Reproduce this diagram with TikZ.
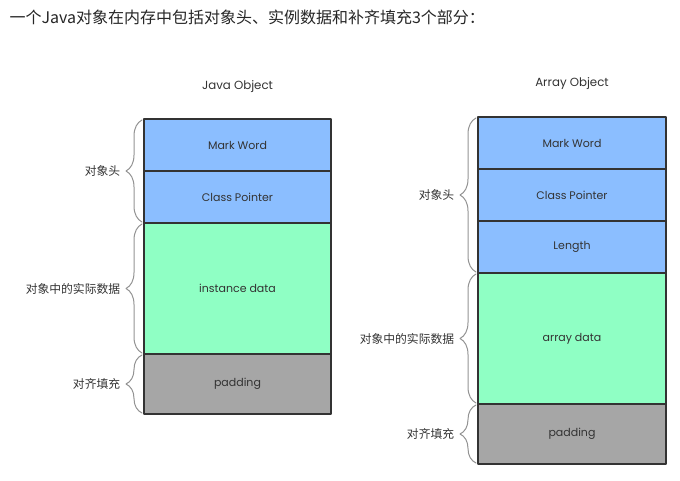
\documentclass[tikz,border=0pt]{standalone}
\usepackage{fontspec}
\setmainfont{Poppins}
\newfontfamily\cjk{Noto Sans CJK SC}
\usetikzlibrary{positioning,decorations.pathreplacing}
\definecolor{hdblue}{RGB}{139,190,255}
\definecolor{datagreen}{RGB}{143,255,196}
\definecolor{padgray}{RGB}{166,166,166}
\definecolor{edgegray}{RGB}{51,51,51}

\begin{document}
\begin{tikzpicture}[x=1pt,y=-1pt,line cap=round,line join=round,
	seg/.style={draw=edgegray, line width=2pt, inner sep=0pt, outer sep=0pt, text=edgegray, font=\fontsize{11}{13}\selectfont},
	brc/.style={draw=gray!85, line width=1pt, decorate, decoration={brace, amplitude=16pt}},
	lbl/.style={left=18pt, midway, text=black!80, font=\cjk\fontsize{11.8}{13}\selectfont}]
			\useasboundingbox (0,0) rectangle (680,481);
			
			\node [anchor=west, text=black!85, font=\cjk\fontsize{16}{18}\selectfont] (caption) at (6,17) {一个Java对象在内存中包括对象头、实例数据和补齐填充3个部分：};
			
			\node [seg, fill=hdblue, minimum width=187pt, minimum height=52pt] (jmark) at (237.5,145) {Mark Word};
			\node [seg, fill=hdblue, minimum width=187pt, minimum height=52pt, below=0pt of jmark] (jclass) {Class Pointer};
			\node [seg, fill=datagreen, minimum width=187pt, minimum height=131pt, below=0pt of jclass] (jdata) {instance data};
			\node [seg, fill=padgray, minimum width=187pt, minimum height=60pt, below=0pt of jdata] (jpad) {padding};
			\node [text=edgegray, font=\fontsize{11.8}{13}\selectfont, above=23pt of jmark] (jtitle) {Java Object};
			
			\node [seg, fill=hdblue, minimum width=188pt, minimum height=52pt] (amark) at (572,143) {Mark Word};
			\node [seg, fill=hdblue, minimum width=188pt, minimum height=52pt, below=0pt of amark] (aclass) {Class Pointer};
			\node [seg, fill=hdblue, minimum width=188pt, minimum height=52pt, below=0pt of aclass] (alen) {Length};
			\node [seg, fill=datagreen, minimum width=188pt, minimum height=131pt, below=0pt of alen] (adata) {array data};
			\node [seg, fill=padgray, minimum width=188pt, minimum height=60pt, below=0pt of adata] (apad) {padding};
			\node [text=edgegray, font=\fontsize{11.8}{13}\selectfont, above=24pt of amark] (atitle) {Array Object};
			
			\foreach \lo/\hi/\txt in {jclass/jmark/对象头, jdata/jdata/对象中的实际数据, jpad/jpad/对齐填充,
				alen/amark/对象头, adata/adata/对象中的实际数据, apad/apad/对齐填充}{
				\draw [brc] ([xshift=-2pt,yshift=1pt]\lo.south west) -- ([xshift=-2pt,yshift=-1pt]\hi.north west) node [lbl] {\txt};}
		\end{tikzpicture}
\end{document}
